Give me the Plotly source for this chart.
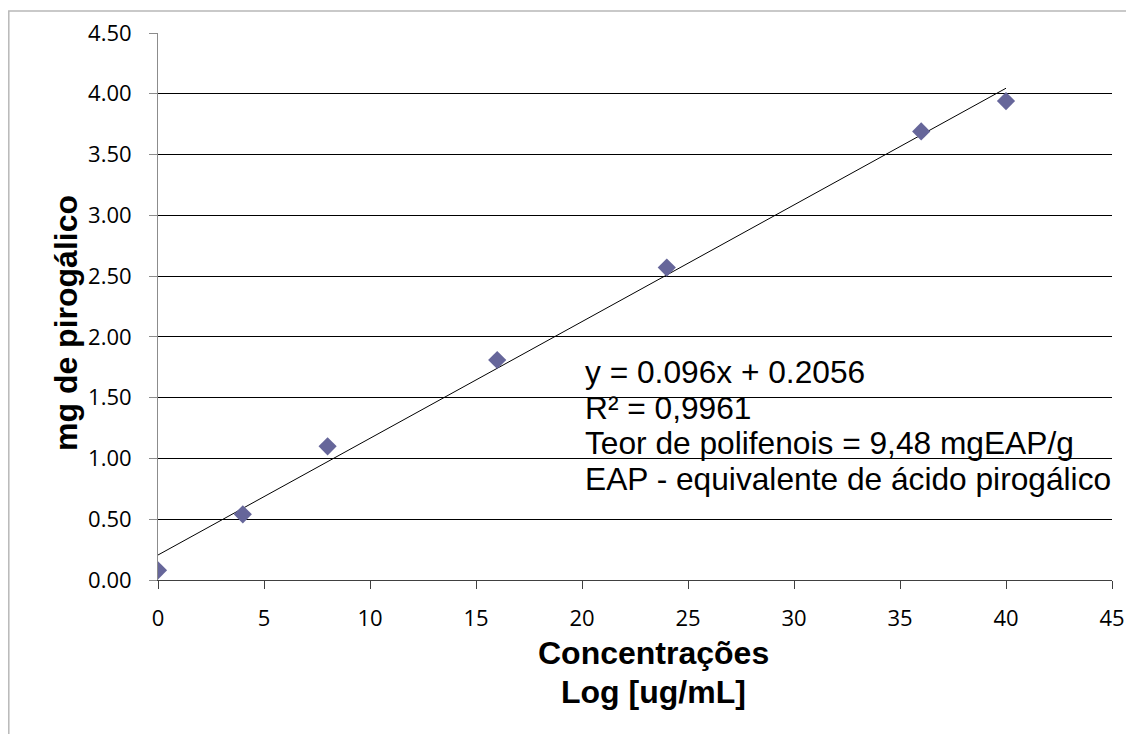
import plotly.graph_objects as go

# Data
concentracoes = [0, 4, 8, 16, 24, 36, 40]
mg_pirogalico = [0.08, 0.54, 1.10, 1.81, 2.57, 3.69, 3.94]
slope = 0.096
intercept = 0.2056
trend_x = [0, 40]
trend_y = [slope * v + intercept for v in trend_x]
x_ticks = [0, 5, 10, 15, 20, 25, 30, 35, 40, 45]
y_ticks = [0, 0.5, 1.0, 1.5, 2.0, 2.5, 3.0, 3.5, 4.0, 4.5]
eq_lines = ["y = 0.096x + 0.2056", "R² = 0,9961",
            "Teor de polifenois = 9,48 mgEAP/g",
            "EAP - equivalente de ácido pirogálico"]

# page offset of the plot div (body margin)
OFF = 8
W, H = 1134 - OFF, 734 - OFF
# plot area in page pixels
PL, PR, PT, PB = 158, 1112, 33, 580
L, T = PL - OFF, PT - OFF
R = W - (PR - OFF)
B = H - (PB - OFF)
pw, ph = W - L - R, H - T - B

def px(xp):
    return (xp - PL) / pw

def py(yp):
    return (PB - yp) / ph

fig = go.Figure()
fig.add_trace(go.Scatter(x=trend_x, y=trend_y, mode="lines",
                         line=dict(color="black", width=1), showlegend=False,
                         hoverinfo="skip"))
fig.add_trace(go.Scatter(x=concentracoes, y=mg_pirogalico, mode="markers",
                         marker=dict(symbol="diamond", size=14, color="#66669a",
                                     line=dict(width=0)),
                         showlegend=False))

tickfont = dict(family="Open Sans, DejaVu Sans, sans-serif", size=22, color="black")
fig.update_xaxes(range=[0, 45], tickvals=x_ticks, showgrid=False, zeroline=False,
                 showline=True, linecolor="#404040", linewidth=1,
                 ticks="outside", ticklen=8, tickcolor="#404040",
                 ticklabelstandoff=11, tickfont=tickfont)
fig.update_yaxes(range=[0, 4.5], tickvals=y_ticks, tickformat=".2f",
                 showgrid=True, gridcolor="#000000", gridwidth=1, zeroline=False,
                 showline=True, linecolor="#8c8c8c", linewidth=1,
                 ticks="outside", ticklen=8, tickcolor="#8c8c8c",
                 ticklabelstandoff=13, tickfont=tickfont)

ann_font = dict(family="Liberation Sans, Arial, sans-serif", size=31.7, color="black")
title_font = dict(family="Liberation Sans, Arial, sans-serif", size=32, color="black")
annots = []
line_centers = [372, 408, 443, 479]
for line, yc in zip(eq_lines, line_centers):
    annots.append(dict(x=px(583), y=py(yc), xref="paper", yref="paper",
                       text=line, showarrow=False, xanchor="left", yanchor="middle",
                       font=ann_font))
annots.append(dict(x=px(653), y=py(653), xref="paper", yref="paper",
                   text="<b>Concentrações</b>", showarrow=False,
                   xanchor="center", yanchor="middle", font=title_font))
annots.append(dict(x=px(653), y=py(692), xref="paper", yref="paper",
                   text="<b>Log [ug/mL]</b>", showarrow=False,
                   xanchor="center", yanchor="middle", font=title_font))
annots.append(dict(x=px(66), y=py(323), xref="paper", yref="paper",
                   text="<b>mg de pirogálico</b>", showarrow=False, textangle=-90,
                   xanchor="center", yanchor="middle", font=title_font))

fig.update_layout(width=W, height=H, margin=dict(l=L, r=R, t=T, b=B, autoexpand=False),
                  paper_bgcolor="white", plot_bgcolor="white",
                  annotations=annots,
                  shapes=[dict(type="rect", xref="paper", yref="paper",
                               x0=px(8.8), x1=px(1150), y0=py(760), y1=py(11),
                               line=dict(color="#b8b8b8", width=1.5))])

fig.write_html("out.html")
